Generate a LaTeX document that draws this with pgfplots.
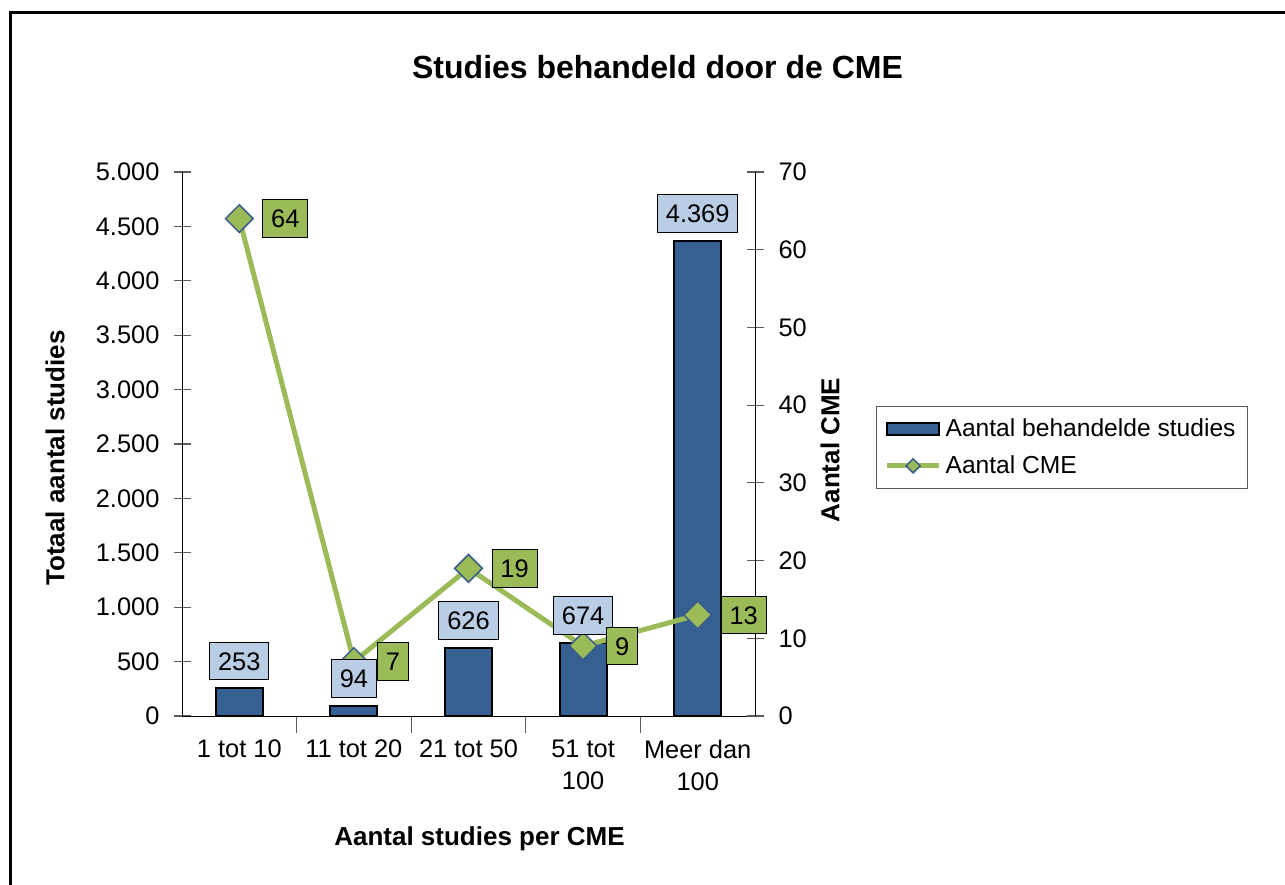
\documentclass[border=0pt]{standalone}
\usepackage{fontspec}
\setmainfont{Liberation Sans}
\usepackage{pgfplots}
\pgfplotsset{compat=1.18}

\definecolor{barblue}{RGB}{55,96,146}
\definecolor{labelblue}{RGB}{185,205,229}
\definecolor{cmegreen}{RGB}{155,187,89}
\definecolor{markedge}{RGB}{56,93,138}
\definecolor{axisgray}{RGB}{90,90,90}

\tikzset{
  valuebox/.style={line width=0.5pt, text=black, draw=black,
    font=\fontsize{12.7}{15}\selectfont,
    inner xsep=4.2pt, inner ysep=4.9pt, text height=9.1pt, text depth=0pt},
}

\pgfplotsset{
  /pgf/number format/1000 sep={.},
  /pgf/number format/assume math mode=true,
  base/.style={
    at={(91pt,84pt)}, anchor=south west,
    scale only axis, width=286.5pt, height=272pt,
    xmin=-0.5, xmax=4.5,
    scaled y ticks=false,
    tick align=center, major tick length=8.5pt, minor tick length=8.5pt,
    every axis line/.style={draw=axisgray, line width=0.6pt},
    every tick/.style={draw=axisgray, line width=0.6pt},
    tick label style={font=\fontsize{12.7}{16}\selectfont},
  },
  barlegend/.style={legend image code/.code={\draw[##1] (0pt,-3pt) rectangle (26pt,3pt);}},
  linelegend/.style={legend image code/.code={\draw[##1, mark repeat=2, mark phase=2, mark size=2.5pt]
    plot coordinates {(0pt,0pt) (13pt,0pt) (26pt,0pt)};}},
}

\begin{document}
\begin{tikzpicture}[x=0.5pt,y=0.5pt]
\path[use as bounding box] (0,0) rectangle (1285,884);
\draw[line width=1.5pt] (10,-10) -- (10,871) -- (1300,871);

% left scale: number of studies (bars)
\begin{axis}[base,
  ymin=0, ymax=5000,
  axis y line*=left, axis x line*=bottom,
  ytick={0,500,...,5000},
  yticklabel style={xshift=-3.5pt},
  xtick={0,1,2,3,4},
  xticklabels={1 tot 10, 11 tot 20, 21 tot 50, {51 tot\\100}, {Meer dan\\100}},
  xticklabel style={align=center},
  major x tick style={draw=none},
  minor xtick={0.5,1.5,2.5,3.5},
  ybar, bar width=23.5pt,
]
\addplot[fill=barblue, draw=black, line width=1pt]
  coordinates {(0,253) (1,94) (2,626) (3,674) (4,4369)};
\end{axis}

% right scale: number of CME (line) and legend
\begin{axis}[base,
  ymin=0, ymax=70,
  axis y line*=right, axis x line=none,
  ytick={0,10,...,70},
  yticklabel style={xshift=4pt},
  legend style={at={(1.2112,0.5699)}, anchor=north west,
    draw=axisgray, line width=0.6pt, fill=white,
    font=\fontsize{12.3}{14}\selectfont, cells={anchor=west},
    inner xsep=4pt, inner ysep=4pt, row sep=4pt},
]
\addlegendimage{fill=barblue, draw=black, line width=1pt, barlegend}
\addlegendentry{Aantal behandelde studies}
\addplot[color=cmegreen, line width=2.5pt,
  mark=square*, mark size=4.9pt,
  mark options={rotate=45, fill=cmegreen, draw=markedge, line width=0.75pt},
  linelegend]
  coordinates {(0,64) (1,7) (2,19) (3,9) (4,13)};
\addlegendentry{Aantal CME}
\end{axis}

% value boxes of the bars
\begin{axis}[base, hide axis, ymin=0, ymax=5000]
\addplot[draw=none, nodes near coords,
  every node near coord/.append style={valuebox, anchor=south, yshift=4pt,
    fill=labelblue}]
  coordinates {(0,253) (1,94) (2,626) (3,674) (4,4369)};
\end{axis}

% value boxes of the line
\begin{axis}[base, hide axis, ymin=0, ymax=70]
\addplot[draw=none, nodes near coords,
  every node near coord/.append style={valuebox, anchor=west, xshift=11.5pt,
    fill=cmegreen}]
  coordinates {(0,64) (1,7) (2,19) (3,9) (4,13)};
\end{axis}

\node[font=\fontsize{16}{19}\selectfont\bfseries] at (657.5,817) {Studies behandeld door de CME};
\node[font=\fontsize{13}{16}\selectfont\bfseries, anchor=base] at (479.5,39) {Aantal studies per CME};
\node[font=\fontsize{13}{16}\selectfont\bfseries, rotate=90] at (55,426) {Totaal aantal studies};
\node[font=\fontsize{13}{16}\selectfont\bfseries, rotate=90] at (830,434) {Aantal CME};
\end{tikzpicture}
\end{document}
